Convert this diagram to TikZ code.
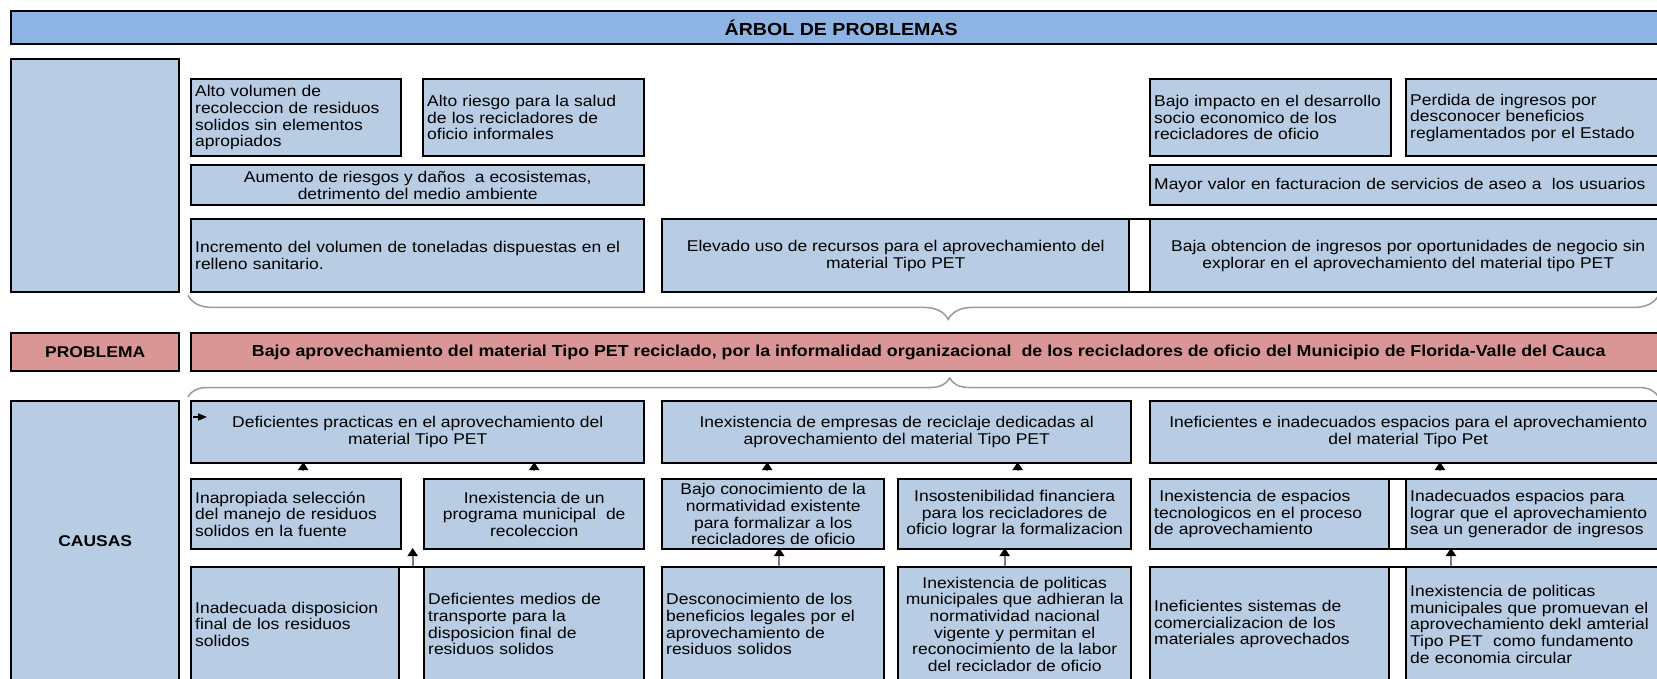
\documentclass[tikz,border=0pt]{standalone}
\usepackage{fontspec}
\setmainfont{Liberation Sans}[FakeStretch=1.12]
\usepackage{tikz}
\usetikzlibrary{arrows.meta,decorations.pathreplacing}
\definecolor{celeste}{HTML}{B8CCE4}
\definecolor{titulo}{HTML}{8DB4E2}
\definecolor{rojizo}{HTML}{DA9694}

\begin{document}
\begin{tikzpicture}[x=1pt, y=-1pt,
  cell/.style={draw=black, line width=2.4pt, fill=celeste, anchor=north west, inner xsep=4pt, inner ysep=0pt, align=left, font=\fontsize{15.6}{16.7}\selectfont},
  ctr/.style={cell, align=center},
  rotulo/.style={cell, align=center, font=\fontsize{15.6}{16.7}\selectfont\bfseries},
  hueco/.style={draw=black, line width=2.4pt, fill=white, anchor=north west, inner sep=0pt},
  sube/.style={draw=gray, line width=2pt, -{Triangle[width=10pt,length=8pt,color=black]}},
  llave/.style 2 args={decorate, draw=gray!80, line width=1.5pt, decoration={brace, amplitude=#1, aspect=#2}}]
  \useasboundingbox (0,0) rectangle (1657,678);
  \clip (0,0) rectangle (1657,678);

  \node[rotulo, fill=titulo, minimum width=1660pt, minimum height=33pt, font=\fontsize{17.5}{18}\selectfont\bfseries] (titulo) at (10,10) {ÁRBOL DE PROBLEMAS};

  % efectos
  \node[cell, minimum width=168pt, minimum height=233pt] (efectos) at (10,58) {};
  \node[cell, text width=202pt, minimum height=77pt] (a1) at (190,78) {Alto volumen de\\recoleccion de residuos\\solidos sin elementos\\apropiados};
  \node[cell, text width=213pt, minimum height=77pt] (a2) at (422,78) {Alto riesgo para la salud\\de los recicladores de\\oficio informales};
  \node[cell, text width=233pt, minimum height=77pt] (a3) at (1149,78) {Bajo impacto en el desarrollo\\socio economico de los\\recicladores de oficio};
  \node[cell, text width=252pt, minimum height=77pt] (a4) at (1405,78) {Perdida de ingresos por\\desconocer beneficios\\reglamentados por el Estado};
  \node[ctr, minimum width=453pt, minimum height=40pt] (b1) at (190,164) {Aumento de riesgos y daños\ \ a ecosistemas,\\detrimento del medio ambiente};
  \node[cell, text width=508pt, minimum height=40pt] (b2) at (1149,164) {Mayor valor en facturacion de servicios de aseo a\ \ los usuarios};
  \node[cell, text width=445pt, minimum height=73pt] (c1) at (190,218) {Incremento del volumen de toneladas dispuestas en el\\relleno sanitario.};
  \node[ctr, minimum width=467pt, minimum height=73pt] (c2) at (661,218) {Elevado uso de recursos para el aprovechamiento del\\material Tipo PET};
  \node[hueco, minimum width=21pt, minimum height=73pt] (hc) at (1128,218) {};
  \node[ctr, minimum width=516pt, minimum height=73pt] (c3) at (1149,218) {Baja obtencion de ingresos por oportunidades de negocio sin\\explorar en el aprovechamiento del material tipo PET};

  % problema
  \node[rotulo, fill=rojizo, minimum width=168pt, minimum height=38pt] (problema) at (10,332) {PROBLEMA};
  \node[rotulo, fill=rojizo, minimum width=1475pt, minimum height=38pt, font=\fontsize{15.9}{16.7}\selectfont\bfseries] (central) at (190,332) {Bajo aprovechamiento del material Tipo PET reciclado, por la informalidad organizacional\ \ de los recicladores de oficio del Municipio de Florida-Valle del Cauca};

  % causas
  \node[rotulo, minimum width=168pt, minimum height=280pt] (causas) at (10,400) {CAUSAS};
  \node[ctr, minimum width=453pt, minimum height=62pt] (d1) at (190,400) {Deficientes practicas en el aprovechamiento del\\material Tipo PET};
  \node[ctr, minimum width=469pt, minimum height=62pt] (d2) at (661,400) {Inexistencia de empresas de reciclaje dedicadas al\\aprovechamiento del material Tipo PET};
  \node[ctr, minimum width=516pt, minimum height=62pt] (d3) at (1149,400) {Ineficientes e inadecuados espacios para el aprovechamiento\\del material Tipo Pet};

  \node[cell, text width=202pt, minimum height=70pt] (e1) at (190,478) {Inapropiada selección\\del manejo de residuos\\solidos en la fuente};
  \node[ctr, minimum width=220pt, minimum height=70pt] (e2) at (423,478) {Inexistencia de un\\programa municipal\ \ de\\recoleccion};
  \node[ctr, minimum width=222pt, minimum height=70pt] (e3) at (661,478) {Bajo conocimiento de la\\normatividad existente\\para formalizar a los\\recicladores de oficio};
  \node[ctr, minimum width=233pt, minimum height=70pt] (e4) at (897,478) {Insostenibilidad financiera\\para los recicladores de\\oficio lograr la formalizacion};
  \node[cell, text width=231pt, minimum height=70pt] (e5) at (1149,478) {\ Inexistencia de espacios\\tecnologicos en el proceso\\de aprovechamiento};
  \node[hueco, minimum width=17pt, minimum height=70pt] (he) at (1388,478) {};
  \node[cell, text width=252pt, minimum height=70pt] (e6) at (1405,478) {Inadecuados espacios para\\lograr que el aprovechamiento\\sea un generador de ingresos};

  \node[cell, text width=200pt, minimum height=114pt] (f1) at (190,566) {Inadecuada disposicion\\final de los residuos\\solidos};
  \node[hueco, minimum width=25pt, minimum height=114pt] (hf1) at (398,566) {};
  \node[cell, text width=212pt, minimum height=114pt] (f2) at (423,566) {Deficientes medios de\\transporte para la\\disposicion final de\\residuos solidos};
  \node[cell, text width=214pt, minimum height=114pt] (f3) at (661,566) {Desconocimiento de los\\beneficios legales por el\\aprovechamiento de\\residuos solidos};
  \node[ctr, minimum width=233pt, minimum height=114pt] (f4) at (897,566) {Inexistencia de politicas\\municipales que adhieran la\\normatividad nacional\\vigente y permitan el\\reconocimiento de la labor\\del reciclador de oficio};
  \node[cell, text width=231pt, minimum height=114pt] (f5) at (1149,566) {Ineficientes sistemas de\\comercializacion de los\\materiales aprovechados};
  \node[hueco, minimum width=17pt, minimum height=114pt] (hf2) at (1388,566) {};
  \node[cell, text width=252pt, minimum height=114pt] (f6) at (1405,566) {Inexistencia de politicas\\municipales que promuevan el\\aprovechamiento dekl amterial\\Tipo PET\ \ como fundamento\\de economia circular};

  % llaves
  \draw[llave={24pt}{0.483}] ([xshift=-9pt,yshift=-2pt]c3.south east) -- ([xshift=-2pt,yshift=-2pt]c1.south west);
  \draw[llave={19pt}{0.518}] ([xshift=-2pt,yshift=3pt]d1.north west) -- ([xshift=-9pt,yshift=3pt]d3.north east);

  % flechas
  \draw[sube, shorten <=7pt] ([xshift=7pt]e1.north) -- ++(0,-16);
  \draw[sube, shorten <=7pt] (e2.north) -- ++(0,-16);
  \draw[sube, shorten <=7pt] ([xshift=-6pt]e3.north) -- ++(0,-16);
  \draw[sube, shorten <=7pt] ([xshift=3pt]e4.north) -- ++(0,-16);
  \draw[sube, shorten <=7pt] ([xshift=35pt]e6.north west) -- ++(0,-16);
  \draw[sube] ([xshift=1pt]hf1.north) -- ++(0,-18);
  \draw[sube] ([xshift=6pt]f3.north) -- ++(0,-18);
  \draw[sube] ([xshift=-10pt]f4.north) -- ++(0,-18);
  \draw[sube] ([xshift=46pt]f6.north west) -- ++(0,-18);
  \draw[line width=1.5pt, -{Triangle[width=7pt,length=9pt]}] ([shift={(3pt,-17pt)}]d1.north west) -- ++(14,0);
\end{tikzpicture}
\end{document}
